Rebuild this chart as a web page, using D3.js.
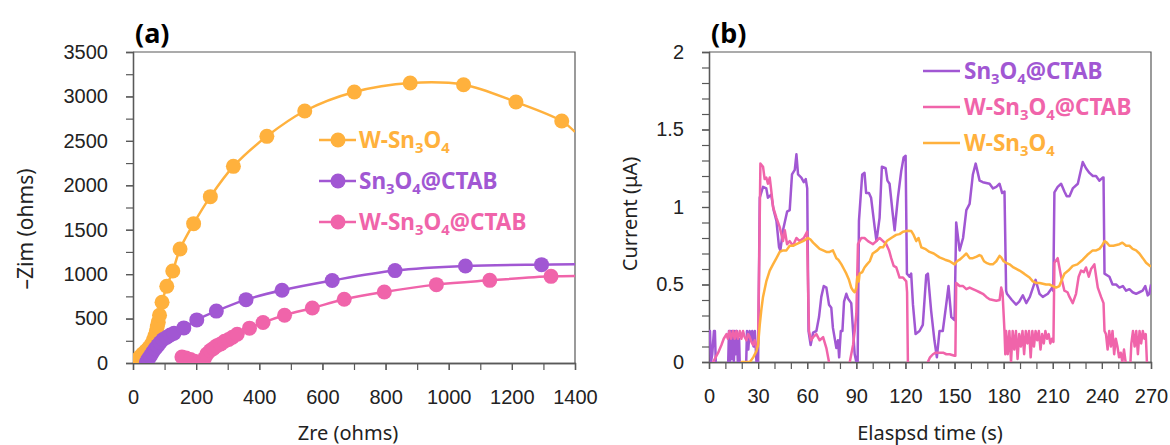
<!DOCTYPE html>
<html>
<head>
<meta charset="utf-8">
<script src="https://cdn.jsdelivr.net/npm/d3@7"></script>
<style>
  body { margin: 0; background: #fff; }
  svg { display: block; font-family: "Noto Sans", "Open Sans", sans-serif; }
</style>
</head>
<body>
<svg id="chart" width="1170" height="445"></svg>
<script>
// ---- data: (a) Nyquist plots [Zre, -Zim] in ohms
const nyqW = [[8,15],[15,40],[22,70],[30,100],[40,135],[50,170],[58,210],[65,260],[70,310],[74,360],[77,410],[80,460],[84,537],[92,684],[107,863],[126,1035],[149,1283],[192,1568],[245,1872],[318,2213],[424,2551],[544,2836],[701,3050],[878,3151],[1047,3132],[1213,2937],[1358,2723]];
const nyqCtab = [[42,0],[44,15],[48,45],[55,80],[62,120],[70,160],[78,195],[86,230],[95,265],[107,290],[118,315],[130,335],[161,395],[202,485],[264,584],[358,713],[472,818],[631,928],[830,1040],[1053,1092],[1294,1107]];
const nyqWCtab = [[155,68],[168,55],[182,40],[195,20],[208,5],[218,12],[226,50],[234,100],[245,140],[255,165],[266,195],[278,215],[290,245],[303,265],[315,290],[330,323],[369,392],[412,455],[480,537],[568,619],[669,717],[796,799],[961,882],[1130,930],[1324,975]];
// fitted curve value where it leaves the plot at Zre = 1400
const nyqEnd = [2600, 1110, 980];
const nyqNames = ['W-Sn3O4', 'Sn3O4@CTAB', 'W-Sn3O4@CTAB'];

// ---- data: (b) photocurrent [time s, current uA]
const curCtab = [[0,0.2],[0.6,0.2],[1.2,0],[2,0.05],[3,0.2],[3.6,0.2],[4.4,-0.1],[11.5,-0.1],[12.2,0.2],[12.8,0],[13.4,0.2],[14,0.02],[14.6,0.2],[15.2,0],[15.8,0.2],[16.4,0.05],[17,0.2],[17.6,0],[18.4,0.15],[19,-0.1],[22.5,-0.1],[23.2,0.2],[24,0.08],[24.8,0.2],[25.6,0.15],[26.4,0.2],[27.2,0.1],[28,0.2],[29,0],[30,0],[31,1.06],[33,1.13],[35,1.12],[36,1.06],[38,1.08],[39.5,0.98],[41.2,0.91],[42.8,0.74],[43.6,0.72],[45.2,0.85],[47.7,0.97],[49.3,0.98],[50.7,1.21],[52.4,1.24],[53.4,1.34],[54.4,1.21],[56.4,1.19],[57.9,1.16],[59.1,1.18],[60,1.12],[60.8,0.2],[62.1,0.11],[63.6,0.19],[65.6,0.2],[67.2,0.29],[68.6,0.42],[70.1,0.49],[71.7,0.48],[73.3,0.37],[74.7,0.35],[75.7,0.22],[77.8,0.09],[78.8,0.14],[79.5,0.03],[80.5,0.2],[81.5,0.2],[82.5,0.39],[83.9,0.44],[84.9,0.41],[86.9,0.38],[88,0.2],[89,0.05],[90,0],[90.8,0],[91.6,0.91],[93.6,1.21],[95,1.22],[96,1.09],[97.7,1.09],[99,1.06],[101.2,0.87],[102.3,0.78],[104.2,0.93],[105.6,1.26],[107.9,1.25],[109,1.17],[110.3,1.15],[112.3,0.95],[113.4,0.85],[115.4,1.06],[117.4,1.23],[118.9,1.32],[120.1,1.33],[120.9,0.57],[122.5,0.55],[123.5,0.57],[124.6,0.37],[126.2,0.18],[128.6,0.2],[130.6,0.24],[132.7,0.56],[133.7,0.57],[135.7,0.33],[137.7,0.14],[139.2,0.03],[140.8,0.2],[142.8,0.2],[144.9,0.37],[146.3,0.49],[148,0.29],[150,0.27],[151,0.9],[153.1,0.72],[155.2,0.8],[157.2,0.98],[159.2,1.02],[161.2,1.21],[162.9,1.28],[165.3,1.17],[167.3,1.16],[171.4,1.15],[173.5,1.12],[175.5,1.13],[177.5,1.15],[179.1,1.09],[180.5,1.1],[181.5,0.46],[182,0.44],[185,0.4],[187.6,0.37],[189.5,0.39],[191.7,0.43],[193.8,0.38],[196,0.42],[199.5,0.53],[201.9,0.44],[203.9,0.42],[207,0.44],[209.6,0.48],[210.3,0.46],[211,1.095],[213,1.13],[215.1,1.15],[217.1,1.1],[218.5,1.07],[220.2,1.07],[222.2,1.12],[225.3,1.15],[228.3,1.29],[230.3,1.25],[232.4,1.22],[234.5,1.2],[236.4,1.2],[238.5,1.17],[240.5,1.19],[241,1.19],[241.6,0.57],[244.6,0.55],[246.5,0.5],[248.7,0.5],[250.7,0.48],[252.8,0.49],[254.8,0.46],[256.8,0.47],[258.8,0.45],[260.9,0.44],[262.9,0.45],[264.9,0.46],[266.5,0.49],[268,0.43],[269,0.44],[270,0.5]];
const curWCtab = [[1.5,-0.1],[2.5,0],[5.6,0.06],[7.6,0.11],[9,0.15],[10.7,0.18],[11.5,0.15],[12.5,0.2],[13.5,0.15],[14.7,0.2],[15.7,0.15],[16.7,0.2],[17.7,0.15],[18.8,0.2],[19.8,0.15],[20.8,0.2],[21.8,0.16],[22.9,0.14],[23.9,0.18],[24.9,0.16],[25.9,0.13],[26.9,0.11],[28,0.14],[29,0.09],[30,0.12],[30.6,0.6],[31.4,1.28],[33,1.26],[34,1.18],[35,1.19],[36,1.15],[37.1,1.19],[38.1,1.1],[39.1,1.0],[41.2,0.93],[43.2,0.87],[45.2,0.78],[46.3,0.85],[47.7,0.76],[49.3,0.78],[51.3,0.75],[53.4,0.8],[55.4,0.78],[57.9,0.8],[59.9,0.84],[60.5,0.5],[61.1,0.2],[62.3,0.14],[63.6,0.16],[65.6,0.18],[67.6,0.14],[69.7,0.16],[71.7,0.09],[73.3,0],[74,-0.1],[85.5,-0.1],[86,0],[88,0.11],[89,0.2],[90,0.31],[91,0.76],[93,0.8],[95,0.8],[97.1,0.78],[100.2,0.76],[102.2,0.78],[104.2,0.8],[106.3,0.78],[108.3,0.76],[110,0.72],[111.3,0.67],[112.8,0.62],[114.4,0.61],[116.4,0.545],[118.5,0.545],[120.5,0.52],[121,0.45],[121.5,0],[122,-0.1],[133,-0.1],[133.7,0],[135,0.03],[136.8,0.05],[138.5,0.06],[140.8,0.06],[143,0.06],[145,0.05],[147,0.05],[150,0.04],[150.5,0.04],[151,0.51],[153.1,0.49],[155.2,0.49],[157.2,0.47],[159.2,0.48],[161.2,0.47],[163.3,0.46],[165.3,0.45],[167.3,0.44],[169.4,0.42],[171.4,0.405],[173.4,0.4],[175.5,0.395],[177.5,0.4],[178.5,0.48],[179.3,0.45],[180.5,0.2],[181,0.05],[181.5,0.2],[182.5,0.05],[183.5,0.2],[184.5,0],[185.5,0.2],[186.5,0.08],[187.5,0.2],[188.5,0.02],[189.5,0.18],[190.5,0.1],[191.5,0.2],[192.5,0.05],[193.5,0.2],[194.5,0.12],[195.5,0.2],[196.5,0.03],[197.5,0.2],[198.5,0.1],[199.5,0.2],[200.5,0.14],[201.5,0.2],[202.5,0.08],[203.5,0.18],[204.5,0.12],[205.5,0.2],[206.5,0.15],[207.5,0.18],[208.5,0.12],[209.5,0.15],[210.4,0.13],[211,0.64],[213,0.67],[215.1,0.55],[217.1,0.46],[219,0.45],[220.2,0.42],[222.2,0.38],[224.2,0.44],[225.8,0.55],[227.3,0.59],[229,0.58],[230.3,0.61],[232,0.55],[233.4,0.6],[235.4,0.63],[236.5,0.55],[237.5,0.48],[239.5,0.42],[241,0.38],[241.6,0.2],[242.5,0.18],[243.5,0.08],[244.5,0.2],[245.5,0.1],[246.5,0.2],[247.5,0.05],[248.5,0.15],[249.5,0.1],[250.5,0.03],[251.5,0.06],[252.5,0],[253.5,0.08],[254.5,0],[255,-0.1],[257,-0.1],[258,0.12],[259,0.2],[260,0.1],[261,0.2],[262,0.05],[263,0.2],[264,0.12],[265,0.2],[266,0.15],[266.8,0.18],[267.5,0],[268,-0.1],[270,-0.1]];
const curW = [[19.5,-0.05],[20,0],[25,0],[27,0.03],[29,0.07],[30,0.11],[31,0.24],[32,0.34],[33,0.42],[35,0.52],[37.1,0.59],[39.1,0.63],[41.2,0.67],[43.2,0.71],[45.2,0.72],[47.3,0.72],[49.3,0.75],[51.3,0.75],[53.4,0.76],[55.4,0.77],[57.4,0.78],[59,0.79],[60.5,0.8],[62,0.79],[63.6,0.77],[65.6,0.75],[67.6,0.73],[69.7,0.72],[71.7,0.71],[73.7,0.71],[75.7,0.72],[77.8,0.67],[79,0.66],[80.9,0.63],[82.4,0.6],[83.9,0.57],[85.5,0.53],[86.9,0.48],[88,0.46],[89,0.45],[90,0.48],[90.6,0.55],[91.5,0.52],[92,0.57],[93.6,0.58],[95,0.61],[96.5,0.63],[98.2,0.65],[100,0.7],[102.8,0.72],[104.5,0.74],[106.3,0.74],[108.6,0.78],[111.3,0.8],[114.3,0.82],[116.4,0.825],[118.5,0.84],[121.5,0.847],[123.6,0.845],[125,0.82],[126.6,0.78],[128,0.8],[129.7,0.74],[132,0.73],[134.7,0.71],[137.3,0.7],[140.8,0.675],[144.2,0.66],[147,0.65],[150,0.63],[151.5,0.65],[153.1,0.66],[155.2,0.68],[157.2,0.7],[159.2,0.67],[161.2,0.67],[163.5,0.68],[165.2,0.69],[166.3,0.685],[168,0.65],[169.4,0.64],[171.8,0.63],[173.4,0.63],[175.5,0.65],[177.5,0.685],[178.5,0.675],[180,0.65],[181.5,0.64],[183.6,0.63],[186,0.61],[189.7,0.59],[192.5,0.57],[195.8,0.545],[197.8,0.52],[199.8,0.51],[202,0.51],[205.9,0.5],[208,0.5],[210,0.49],[212,0.48],[214,0.49],[215.5,0.53],[217.1,0.57],[219.5,0.59],[222.2,0.62],[225,0.63],[228.3,0.66],[231,0.69],[234.4,0.72],[236.5,0.72],[238.5,0.73],[240,0.75],[241.6,0.78],[243,0.77],[244.6,0.75],[247,0.75],[250.7,0.76],[252.5,0.77],[254.8,0.75],[256.8,0.75],[258.8,0.73],[260.9,0.72],[262.9,0.7],[265,0.67],[267,0.64],[269.4,0.62],[270,0.62]];
const curNames = ['Sn3O4@CTAB', 'W-Sn3O4@CTAB', 'W-Sn3O4'];

const zreTicks = [0, 200, 400, 600, 800, 1000, 1200, 1400];
const zimTicks = [0, 500, 1000, 1500, 2000, 2500, 3000, 3500];
const timeTicks = [0, 30, 60, 90, 120, 150, 180, 210, 240, 270];
const curTicks = [0, 0.5, 1, 1.5, 2];

const ORANGE = '#ffb13d', PURPLE = '#a157d3', PINK = '#f064aa';
const AXIS = '#595959';

const svg = d3.select('#chart');

// label with chemical subscripts (digits become subscript)
function chemText(sel, label) {
  let shift = 0;
  label.split(/(\d)/).filter(s => s !== '').forEach(part => {
    const sub = /\d/.test(part);
    const dy = (sub ? 5 : 0) - shift;
    shift = sub ? 5 : 0;
    const t = sel.append('tspan').attr('dy', dy).text(part);
    if (sub) t.attr('font-size', '0.66em');
  });
}

function frame(x, y, id) {
  const [x0, x1] = x.range(), [y0, y1] = y.range();
  svg.append('clipPath').attr('id', id)
    .append('rect').attr('x', x0).attr('y', y1).attr('width', x1 - x0).attr('height', y0 - y1);
  svg.append('path')
    .attr('d', `M${x0},${y1}H${x1}V${y0}`)
    .attr('fill', 'none').attr('stroke', AXIS).attr('stroke-width', 1.2);
}

function axes(x, y, xMinor, yMinor, xTicks, yTicks, fmtX, fmtY) {
  const y0 = y.range()[0];
  const x0 = x.range()[0];
  const styl = g => {
    g.select('.domain').attr('stroke', AXIS).attr('stroke-width', 1.3);
    g.selectAll('line').attr('stroke', AXIS).attr('stroke-width', 1.2);
    g.selectAll('text').attr('fill', '#222').attr('font-size', 20);
  };
  svg.append('g').attr('transform', `translate(0,${y0})`)
    .call(d3.axisBottom(x).tickValues(xMinor).tickSize(7).tickFormat(''))
    .call(styl);
  svg.append('g').attr('transform', `translate(0,${y0})`)
    .call(d3.axisBottom(x).tickValues(xTicks).tickSize(7).tickSizeOuter(0).tickPadding(20).tickFormat(fmtX))
    .call(styl);
  svg.append('g').attr('transform', `translate(${x0},0)`)
    .call(d3.axisLeft(y).tickValues(yMinor).tickSize(7).tickFormat(''))
    .call(styl);
  svg.append('g').attr('transform', `translate(${x0},0)`)
    .call(d3.axisLeft(y).tickValues(yTicks).tickSize(7).tickSizeOuter(0).tickPadding(18).tickFormat(fmtY))
    .call(styl);
}

// ---------------- panel (a)
const xa = d3.scaleLinear().domain([0, 1400]).range([133, 575]);
const ya = d3.scaleLinear().domain([0, 3500]).range([363, 52]);

frame(xa, ya, 'clipA');
axes(xa, ya, d3.range(0, 1401, 100), d3.range(0, 3501, 250), zreTicks, zimTicks, d3.format('d'), d3.format('d'));

const nyqSeries = [nyqW, nyqCtab, nyqWCtab];
const nyqColors = [ORANGE, PURPLE, PINK];
const lineA = d3.line().x(d => xa(d[0])).y(d => ya(d[1])).curve(d3.curveCatmullRom.alpha(0.5));

nyqSeries.forEach((pts, i) => {
  const g = svg.append('g').attr('clip-path', 'url(#clipA)');
  g.append('path')
    .datum(pts.concat([[1400, nyqEnd[i]]]))
    .attr('d', lineA)
    .attr('fill', 'none').attr('stroke', nyqColors[i]).attr('stroke-width', 2.5);
  g.selectAll('circle').data(pts).enter().append('circle')
    .attr('cx', d => xa(d[0])).attr('cy', d => ya(d[1])).attr('r', 7.5)
    .attr('fill', nyqColors[i]);
});

// legend (a)
nyqNames.forEach((name, i) => {
  const g = svg.append('g').attr('transform', `translate(319,${140 + i * 41})`);
  g.append('line').attr('x1', 0).attr('x2', 37).attr('stroke', nyqColors[i]).attr('stroke-width', 2.5);
  g.append('circle').attr('cx', 19).attr('r', 7.5).attr('fill', nyqColors[i]);
  g.append('text').attr('x', 40).attr('y', 8).attr('font-size', 22.5).attr('font-weight', 'bold')
    .attr('fill', nyqColors[i]).call(chemText, name);
});

svg.append('text').attr('x', 135).attr('y', 43).attr('font-size', 27).attr('font-weight', 'bold').text('(a)');
svg.append('text').attr('x', 348).attr('y', 440).attr('text-anchor', 'middle').attr('font-size', 20).attr('fill', '#222').text('Zre (ohms)');
svg.append('text').attr('transform', 'translate(33,229) rotate(-90)').attr('text-anchor', 'middle')
  .attr('font-size', 21).attr('fill', '#222').text('\u2013Zim (ohms)');

// ---------------- panel (b)
const xb = d3.scaleLinear().domain([0, 270]).range([709, 1151]);
const yb = d3.scaleLinear().domain([0, 2]).range([362, 52]);

frame(xb, yb, 'clipB');
axes(xb, yb, d3.range(0, 271, 10), d3.range(0, 2.01, 0.1).map(v => +v.toFixed(1)), timeTicks, curTicks, d3.format('d'), d3.format(''));

const curSeries = [curCtab, curWCtab, curW];
const curColors = [PURPLE, PINK, ORANGE];
const lineB = d3.line().x(d => xb(d[0])).y(d => yb(d[1]));

curSeries.forEach((pts, i) => {
  svg.append('path')
    .attr('clip-path', 'url(#clipB)')
    .datum(pts)
    .attr('d', lineB)
    .attr('fill', 'none').attr('stroke', curColors[i]).attr('stroke-width', 2.5)
    .attr('stroke-linejoin', 'round');
});

// legend (b)
curNames.forEach((name, i) => {
  const g = svg.append('g').attr('transform', `translate(923,${71 + i * 36})`);
  g.append('line').attr('x1', 0).attr('x2', 37).attr('stroke', curColors[i]).attr('stroke-width', 2.5);
  g.append('text').attr('x', 41).attr('y', 8).attr('font-size', 22.5).attr('font-weight', 'bold')
    .attr('fill', curColors[i]).call(chemText, name);
});

svg.append('text').attr('x', 711).attr('y', 43).attr('font-size', 27).attr('font-weight', 'bold').text('(b)');
svg.append('text').attr('x', 930).attr('y', 440).attr('text-anchor', 'middle').attr('font-size', 20).attr('fill', '#222').text('Elaspsd time (s)');
svg.append('text').attr('transform', 'translate(637,214) rotate(-90)').attr('text-anchor', 'middle')
  .attr('font-size', 20).attr('fill', '#222').text('Current (\u03bcA)');
</script>
</body>
</html>
